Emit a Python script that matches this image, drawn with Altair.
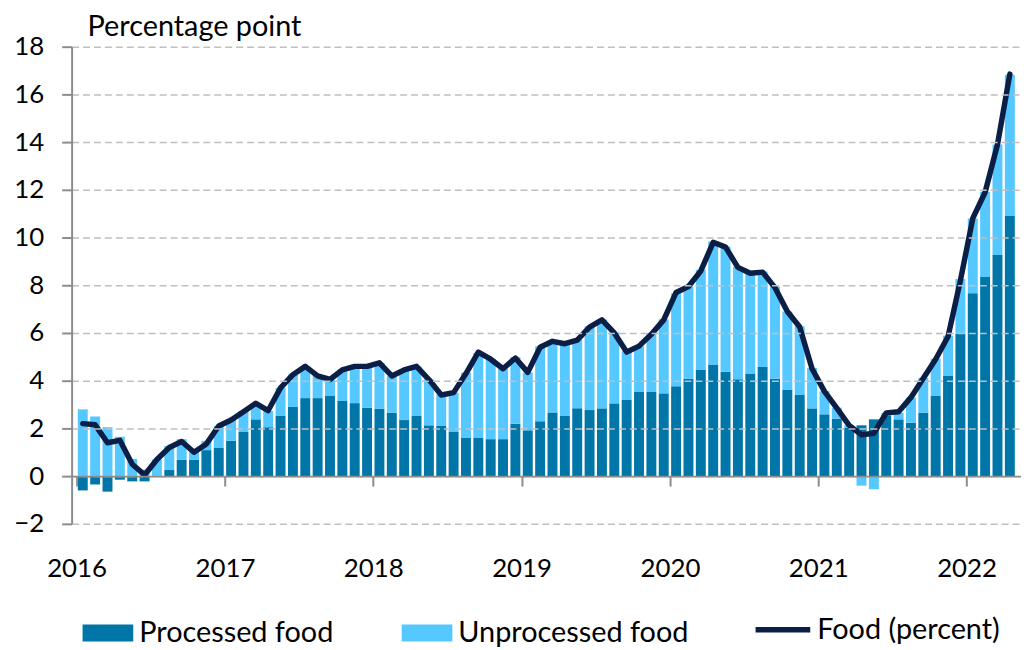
import altair as alt
import pandas as pd

# Monthly data, Jan 2016 - Apr 2022 (percentage points / percent)
processed = [
    -0.60, -0.35, -0.65, -0.15, -0.22, -0.22, 0.02, 0.26, 0.68, 0.68, 1.09, 1.20,
    1.48, 1.85, 2.38, 2.05, 2.52, 2.90, 3.27, 3.27, 3.38, 3.15, 3.06, 2.87,
    2.83, 2.66, 2.35, 2.52, 2.13, 2.10, 1.85, 1.60, 1.60, 1.55, 1.55, 2.19,
    1.92, 2.30, 2.67, 2.52, 2.84, 2.77, 2.84, 3.05, 3.19, 3.55, 3.55, 3.47,
    3.77, 4.08, 4.47, 4.68, 4.37, 4.06, 4.30, 4.57, 4.08, 3.63, 3.40, 2.84,
    2.59, 2.41, 2.03, 2.13, 2.38, 2.55, 2.38, 2.24, 2.66, 3.38, 4.22, 5.97,
    7.67, 8.35, 9.27, 10.92,
]
unprocessed = [
    2.80, 2.50, 2.05, 1.65, 0.72, 0.27, 0.68, 1.00, 0.87, 0.38, 0.39, 0.90,
    0.90, 0.88, 0.60, 0.68, 1.18, 1.36, 1.33, 0.96, 0.65, 1.32, 1.60, 1.78,
    1.92, 1.53, 2.12, 2.08, 1.92, 1.32, 1.65, 2.73, 3.57, 3.34, 2.95, 2.80,
    2.43, 3.14, 3.03, 3.04, 2.88, 3.51, 3.72, 2.98, 2.05, 1.89, 2.45, 3.10,
    3.90, 3.87, 4.18, 5.15, 5.25, 4.72, 4.20, 4.01, 3.87, 3.27, 2.88, 1.70,
    0.97, 0.46, 0.10, -0.40, -0.55, 0.10, 0.28, 1.05, 1.46, 1.54, 1.67, 2.29,
    3.13, 3.57, 4.63, 5.90,
]
food = [
    2.20, 2.15, 1.40, 1.50, 0.50, 0.05, 0.70, 1.20, 1.45, 1.00, 1.35, 2.10,
    2.35, 2.70, 3.05, 2.75, 3.70, 4.25, 4.60, 4.20, 4.05, 4.45, 4.60, 4.60,
    4.75, 4.20, 4.45, 4.60, 4.05, 3.40, 3.50, 4.30, 5.20, 4.90, 4.50, 4.95,
    4.35, 5.40, 5.65, 5.55, 5.70, 6.25, 6.55, 6.00, 5.20, 5.45, 5.95, 6.55,
    7.70, 7.95, 8.60, 9.80, 9.60, 8.75, 8.50, 8.55, 7.90, 6.90, 6.25, 4.50,
    3.55, 2.85, 2.13, 1.73, 1.80, 2.65, 2.70, 3.30, 4.10, 4.90, 5.85, 8.20,
    10.80, 11.90, 13.90, 16.85,
]
series_names = ["Processed food", "Unprocessed food"]
line_name = "Food (percent)"
first_year = 2016
year_count = 7
y_ticks = list(range(-2, 19, 2))

n = len(food)
rows = []
for i in range(n):
    rows.append({"m": i, "series": series_names[0], "value": processed[i], "ord": 0})
    rows.append({"m": i, "series": series_names[1], "value": unprocessed[i], "ord": 1})
bars_df = pd.DataFrame(rows)
line_df = pd.DataFrame({"m": list(range(n)), "value": food, "lseries": [line_name] * n})

W, H = 955, 480
FONT = "Lato"
FS = 26      # axis labels
TFS = 29     # title & legend text
GRAY = "#8C8C8C"
DARK = "#0076A8"
LIGHT = "#55C8FF"
NAVY = "#0A1E46"

x_axis = alt.Axis(
    values=[12 * k - 0.5 for k in range(year_count)],
    labelExpr="'' + (%d + round((datum.value + 0.5) / 12))" % first_year,
    title=None,
    grid=False,
    offset=-H * 2 / 20,
    domainColor=GRAY,
    domainWidth=2,
    tickColor=GRAY,
    tickWidth=2,
    tickSize=10,
    labelPadding=70,
    labelFontSize=FS,
    labelColor="black",
    labelFlush=False,
    zindex=2,
)
x_enc = alt.X("m:Q", scale=alt.Scale(domain=[-0.5, n - 0.5], nice=False, zero=False), axis=x_axis)

y_axis = alt.Axis(
    values=y_ticks,
    title=None,
    grid=True,
    gridDash=[7, 4],
    gridColor="#BFBFBF",
    gridWidth=1.5,
    domainColor=GRAY,
    domainWidth=2,
    tickColor=GRAY,
    tickWidth=2,
    tickSize=10,
    labelPadding=18,
    labelFontSize=FS,
    labelColor="black",
    zindex=1,
)
y_scale = alt.Scale(domain=[-2, 18], nice=False)

bars = alt.Chart(bars_df).mark_bar(width=10).encode(
    x=x_enc,
    y=alt.Y("value:Q", stack="zero", scale=y_scale, axis=y_axis),
    color=alt.Color(
        "series:N",
        scale=alt.Scale(domain=series_names, range=[DARK, LIGHT]),
        legend=alt.Legend(
            orient="none",
            legendX=5,
            legendY=575,
            direction="horizontal",
            title=None,
            symbolType="M-1,-1H5V1H-1Z",
            symbolSize=289,
            symbolStrokeWidth=0,
            labelOffset=34,
            labelFontSize=TFS,
            labelLimit=500,
            columnPadding=62,
            padding=0,
        ),
    ),
    order=alt.Order("ord:Q", sort="ascending"),
)

line = alt.Chart(line_df).mark_line(strokeWidth=5.5, strokeJoin="round", strokeCap="round").encode(
    x=x_enc,
    y=alt.Y("value:Q", scale=y_scale, axis=y_axis),
    stroke=alt.Stroke(
        "lseries:N",
        scale=alt.Scale(domain=[line_name], range=[NAVY]),
        legend=alt.Legend(
            orient="none",
            legendX=685,
            legendY=556,
            title=None,
            symbolType="stroke",
            symbolSize=3025,
            symbolStrokeWidth=5.5,
            labelOffset=4,
            labelFontSize=TFS,
            labelLimit=500,
            padding=0,
        ),
    ),
)

chart = (
    alt.layer(bars, line)
    .properties(
        width=W,
        height=H,
        padding={"left": 5, "top": 3, "right": 0, "bottom": 0},
        title=alt.TitleParams(
            "Percentage point",
            anchor="start",
            frame="group",
            dx=16,
            fontSize=TFS,
            fontWeight="normal",
            color="black",
            offset=-8,
        ),
    )
    .configure(font=FONT)
    .configure_view(stroke=None)
)

chart.save("out.html", embed_options={"renderer": "svg", "actions": False})
